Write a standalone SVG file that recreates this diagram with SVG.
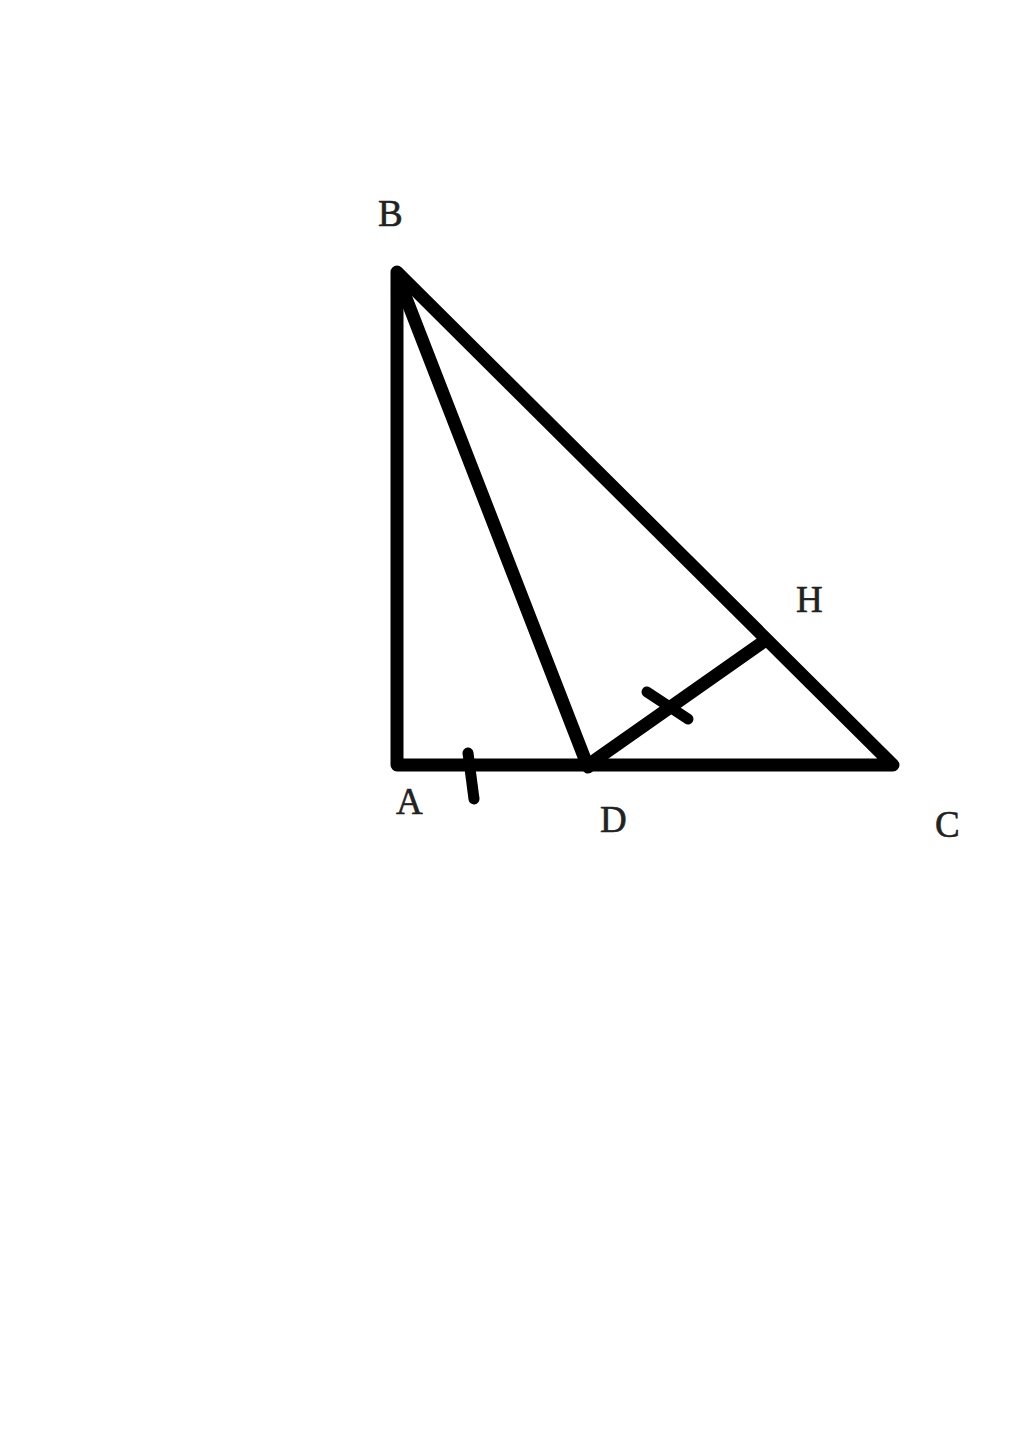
<svg xmlns="http://www.w3.org/2000/svg" width="1024" height="1437" viewBox="0 0 1024 1437">
<style>
.ln{stroke:#000;stroke-width:13;fill:none;stroke-linecap:round;stroke-linejoin:round}
.tk{stroke:#000;stroke-width:11;fill:none;stroke-linecap:round}
.lb{font-family:"Liberation Serif","DejaVu Serif",serif;font-size:37px;fill:#222;stroke:#222;stroke-width:0.6}
</style>
<rect width="1024" height="1437" fill="#fff"/>
<g id="connectors">
<polyline class="ln" points="397,765 397,272 893,765 397,765"/>
<line class="ln" x1="399" y1="280" x2="588" y2="767"/>
<line class="ln" x1="588" y1="765" x2="763" y2="642"/>
<line class="tk" x1="468" y1="753" x2="474" y2="799"/>
<line class="tk" x1="647" y1="692" x2="688" y2="719"/>
</g>
<g id="B"><text class="lb" x="378" y="226">B</text></g>
<g id="H"><text class="lb" x="796" y="612">H</text></g>
<g id="A"><text class="lb" x="396" y="814">A</text></g>
<g id="D"><text class="lb" x="600" y="832">D</text></g>
<g id="C"><text class="lb" x="935" y="837">C</text></g>
</svg>
